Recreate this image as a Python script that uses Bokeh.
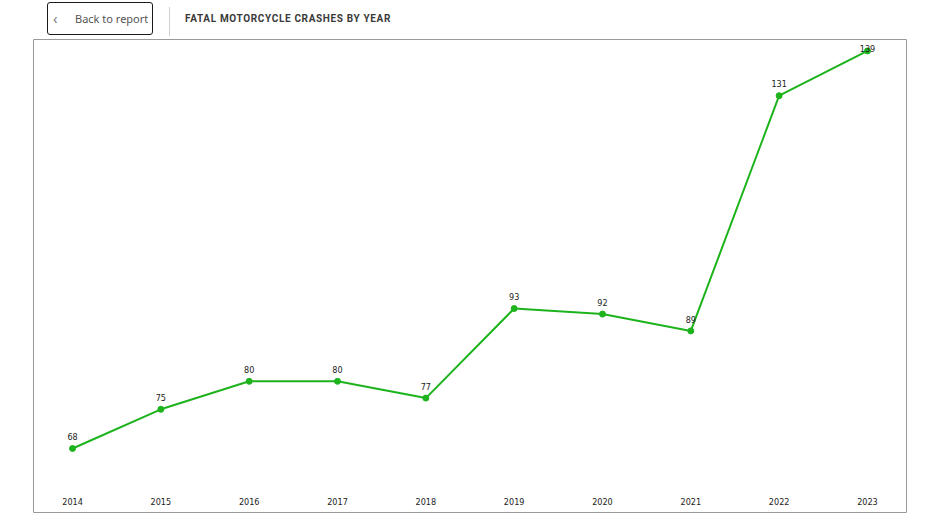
from bokeh.plotting import figure
from bokeh.models import Div, FixedTicker, LinearAxis, ColumnDataSource, Range1d
from bokeh.layouts import column
from bokeh.embed import file_html
from bokeh.resources import INLINE
from bokeh.core.properties import value

# ---- data ----
years = [2014, 2015, 2016, 2017, 2018, 2019, 2020, 2021, 2022, 2023]
crashes = [68, 75, 80, 80, 77, 93, 92, 89, 131, 139]
title_text = "FATAL MOTORCYCLE CRASHES BY YEAR"
back_text = "Back to report"

GREEN = "#1db31d"

# ---- header ----
header_html = f"""
<div style="position:relative;width:932px;height:38px;font-family:'Open Sans',sans-serif;">
  <div style="position:absolute;left:47px;top:2px;width:104px;height:31px;border:1.5px solid #1a1a1a;border-radius:3px;box-sizing:content-box;"></div>
  <div style="position:absolute;left:53px;top:9px;font-size:15px;line-height:18px;color:#777;">&#8249;</div>
  <div style="position:absolute;left:75px;top:10px;font-size:11px;line-height:18px;color:#555;font-family:'Noto Sans',sans-serif;">{back_text}</div>
  <div style="position:absolute;left:169px;top:7px;width:1px;height:29px;background:#d0d0d0;"></div>
  <div style="position:absolute;left:185px;top:11px;font-size:10px;line-height:16px;font-weight:bold;letter-spacing:0.65px;color:#3a3a3a;font-family:Roboto,sans-serif;">{title_text}</div>
</div>
"""
header = Div(text=header_html, width=932, height=38, margin=(0, 0, 0, 0))

# ---- chart ----
ymin, ymax = 56.57, 141.04
p = figure(width=932, height=478, output_backend="svg", toolbar_location=None,
           x_range=Range1d(2013.558, 2023.442), y_range=Range1d(ymin, ymax),
           min_border_left=33, min_border_right=26, min_border_top=1, min_border_bottom=4,
           x_axis_type=None, y_axis_type=None, margin=(0, 0, 0, 0))
p.grid.visible = False
p.outline_line_color = "#9a9a9a"
p.outline_line_width = 1
p.background_fill_color = "white"
p.border_fill_color = "white"

# x axis drawn inside the frame
xaxis = LinearAxis(fixed_location=61.0, ticker=FixedTicker(ticks=years))
xaxis.axis_line_color = None
xaxis.major_tick_line_color = None
xaxis.minor_tick_line_color = None
xaxis.major_label_standoff = 4
xaxis.major_label_text_font = "DejaVu Sans Condensed"
xaxis.major_label_text_font_size = "9px"
xaxis.major_label_text_color = "#222222"
p.add_layout(xaxis, "below")

src = ColumnDataSource(dict(
    x=years, y=crashes,
    lbl=[str(v) for v in crashes],
    ly=[min(v + 2.1, ymax - 1.6) for v in crashes],
))

p.line("x", "y", source=src, line_color=GREEN, line_width=2)
p.scatter("x", "y", source=src, size=6, fill_color=GREEN, line_color=GREEN)
p.text("x", "ly", text="lbl", source=src, text_align="center", text_baseline="middle",
       text_font=value("DejaVu Sans Condensed"), text_font_size="9px", text_color="#222222")

layout = column(header, p, spacing=0)
open("out.html", "w").write(file_html(layout, INLINE))
